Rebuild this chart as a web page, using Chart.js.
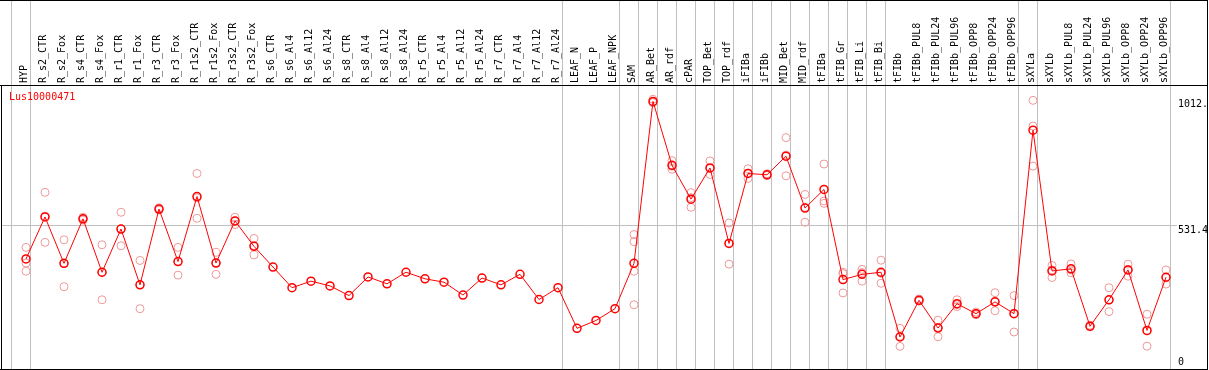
<!DOCTYPE html>
<html>
<head>
<meta charset="utf-8">
<script src="https://cdn.jsdelivr.net/npm/chart.js@4"></script>
<style>
body { margin: 0; background: #fff; }
canvas { display: block; }
</style>
</head>
<body>
<canvas id="mycanvas" width="1209" height="370"></canvas>
<script>
var geneName = 'Lus10000471';

var labels = ['HYP', 'R_s2_CTR', 'R_s2_Fox', 'R_s4_CTR', 'R_s4_Fox', 'R_r1_CTR', 'R_r1_Fox',
	'R_r3_CTR', 'R_r3_Fox', 'R_r1s2_CTR', 'R_r1s2_Fox', 'R_r3s2_CTR', 'R_r3s2_Fox',
	'R_s6_CTR', 'R_s6_Al4', 'R_s6_Al12', 'R_s6_Al24', 'R_s8_CTR', 'R_s8_Al4', 'R_s8_Al12', 'R_s8_Al24',
	'R_r5_CTR', 'R_r5_Al4', 'R_r5_Al12', 'R_r5_Al24', 'R_r7_CTR', 'R_r7_Al4', 'R_r7_Al12', 'R_r7_Al24',
	'LEAF_N', 'LEAF_P', 'LEAF_NPK', 'SAM', 'AR_Bet', 'AR_rdf', 'cPAR', 'TOP_Bet', 'TOP_rdf',
	'iFIBa', 'iFIBb', 'MID_Bet', 'MID_rdf', 'tFIBa', 'tFIB_Gr', 'tFIB_Li', 'tFIB_Bi',
	'tFIBb', 'tFIBb_PUL8', 'tFIBb_PUL24', 'tFIBb_PUL96', 'tFIBb_OPP8', 'tFIBb_OPP24', 'tFIBb_OPP96',
	'sXYLa', 'sXYLb', 'sXYLb_PUL8', 'sXYLb_PUL24', 'sXYLb_PUL96', 'sXYLb_OPP8', 'sXYLb_OPP24', 'sXYLb_OPP96'];

// mean expression per sample
var means = [403, 563, 386, 556, 352, 517, 304, 593, 393, 641, 387, 548, 451,
	372, 293, 318, 300, 263, 334, 308, 352,
	327, 314, 265, 330, 304, 344, 248, 293,
	138, 168, 213, 386, 1004, 760, 631, 750, 462,
	729, 724, 795, 597, 668, 324, 344, 352,
	105, 245, 139, 232, 194, 239, 194,
	894, 357, 365, 146, 247, 361, 130, 333];

// single replicates (faint circles)
var replicates = [
	[447, 387, 356], [657, 466, 566], [476, 297, 385], [562, 551, 555], [457, 247, 352],
	[581, 453, 517], [397, 213, 304], [598, 590, 591], [447, 341, 393], [729, 558, 636],
	[428, 344, 389], [562, 534, 548], [481, 418, 454],
	[], [], [], [], [], [], [], [], [], [], [], [], [], [], [], [], [], [], [],
	[496, 469, 356, 228], [1012, 1000, 1000], [778, 745, 757], [656, 600, 637], [777, 725, 748],
	[540, 383, 463], [747, 710, 730], [728, 722, 722], [866, 720, 799], [649, 543, 599],
	[765, 615, 624], [352, 347, 273], [363, 318, 351], [398, 310, 348],
	[138, 69, 108], [250, 242, 243], [169, 106, 142], [247, 228, 221], [200, 190, 192],
	[274, 205, 238], [263, 124, 195],
	[1008, 910, 757], [378, 332, 361], [384, 350, 361], [150, 144, 144], [293, 202, 246],
	[383, 337, 363], [192, 70, 128], [361, 307, 331]];

// sample index after which a grey separator is drawn (-1 = before the first one)
var groupEnds = [-1, 0, 28, 31, 32, 33, 34, 35, 36, 37, 38, 39, 40, 41, 42, 43, 44, 45, 52, 53, 60];

var yMax = 1062.8;
var yTicks = [0, 531.4, 1012];
var yTickLabels = ['0', '531.4', '1012.'];

var monoFont = '10px "DejaVu Sans Mono", "Liberation Mono", monospace';

var repPoints = [];
for (var i in replicates) {
	for (var j in replicates[i]) {
		repPoints.push({x: labels[i], y: replicates[i][j]});
	}
}

var decor = {
	id: 'decor',
	beforeDatasetsDraw: function(chart) {
		var ctx = chart.ctx;
		var xs = chart.scales.x;
		var ys = chart.scales.y;
		ctx.save();
		ctx.lineWidth = 1;

		// grey lines
		ctx.strokeStyle = '#c0c0c0';
		ctx.beginPath();
		var gy = Math.round(ys.getPixelForValue(yTicks[1])) + 0.5;
		ctx.moveTo(2, gy);
		ctx.lineTo(1177, gy);
		for (var k = 0; k < groupEnds.length; k++) {
			var gx = Math.round(xs.getPixelForValue(groupEnds[k]) + 4) + 0.5;
			ctx.moveTo(gx, 0);
			ctx.lineTo(gx, 369);
		}
		ctx.stroke();

		// black frame
		ctx.strokeStyle = '#000';
		ctx.beginPath();
		ctx.moveTo(0, 0.5); ctx.lineTo(1208, 0.5);
		ctx.moveTo(0, 85.5); ctx.lineTo(1208, 85.5);
		ctx.moveTo(0, 369.5); ctx.lineTo(1208, 369.5);
		ctx.moveTo(1.5, 85); ctx.lineTo(1.5, 370);
		ctx.moveTo(1207.5, 0); ctx.lineTo(1207.5, 370);
		ctx.stroke();

		// value labels on the right
		ctx.font = monoFont;
		ctx.fillStyle = '#000';
		ctx.textAlign = 'left';
		ctx.textBaseline = 'middle';
		for (var t = 0; t < yTicks.length; t++) {
			var ty = Math.min(ys.getPixelForValue(yTicks[t]) + 5, 362);
			ctx.fillText(yTickLabels[t], 1178, ty);
		}

		// gene name
		ctx.fillStyle = '#ff0000';
		ctx.textBaseline = 'top';
		ctx.fillText(geneName, 9, 92);
		ctx.restore();
	}
};

var ctx = document.getElementById('mycanvas');

var chart = new Chart(ctx, {
	type: 'line',
	data: {
		labels: labels,
		datasets: [
			{
				label: 'mean',
				data: means,
				borderColor: '#ff0000',
				borderWidth: 1,
				pointRadius: 4,
				pointBorderWidth: 1.5,
				pointBorderColor: '#ff0000',
				pointBackgroundColor: 'rgba(0,0,0,0)',
				tension: 0,
				order: 0
			},
			{
				label: 'replicates',
				data: repPoints,
				showLine: false,
				pointRadius: 4,
				pointBorderWidth: 1,
				pointBorderColor: '#ee9999',
				pointBackgroundColor: 'rgba(0,0,0,0)',
				order: 1
			}
		]
	},
	options: {
		responsive: false,
		animation: false,
		events: [],
		layout: {
			padding: {left: 16.5, right: 33.5, top: 0, bottom: 0}
		},
		plugins: {
			legend: {display: false},
			tooltip: {enabled: false}
		},
		scales: {
			x: {
				type: 'category',
				position: 'top',
				offset: true,
				grid: {display: false, drawTicks: false},
				border: {display: false},
				ticks: {
					autoSkip: false,
					minRotation: 90,
					maxRotation: 90,
					padding: 3,
					labelOffset: 10,
					color: '#000',
					font: {family: '"DejaVu Sans Mono", "Liberation Mono", monospace', size: 10}
				},
				afterFit: function(scale) {
					scale.height = 86;
				}
			},
			y: {
				display: false,
				min: 0,
				max: yMax
			}
		}
	},
	plugins: [decor]
});
</script>
</body>
</html>
